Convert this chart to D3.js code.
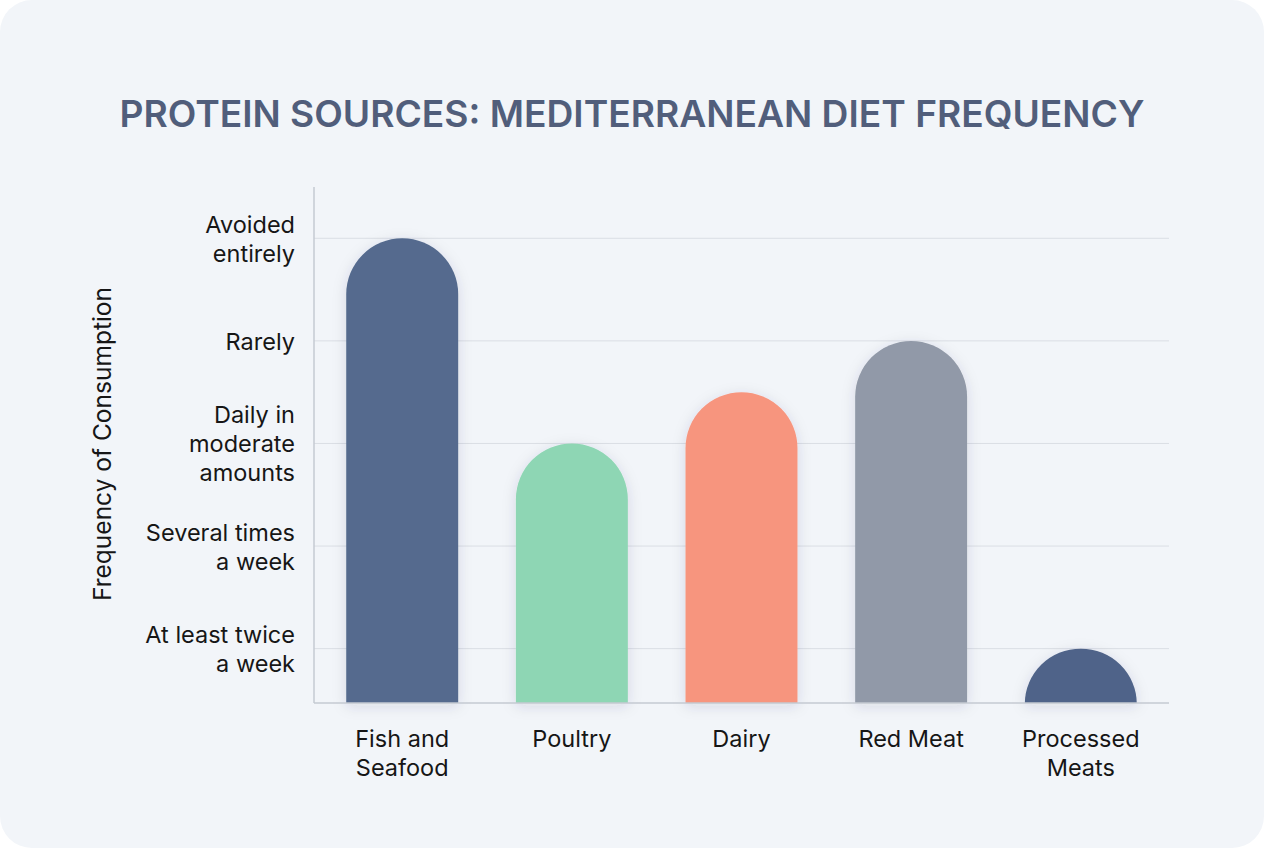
<!DOCTYPE html>
<html>
<head>
<meta charset="utf-8">
<script src="https://cdn.jsdelivr.net/npm/d3@7"></script>
<style>
  html, body { margin: 0; padding: 0; background: #ffffff; }
  svg { display: block; }
</style>
</head>
<body>
<svg id="chart"></svg>
<script>
// chart data
var categories = ["Fish and Seafood", "Poultry", "Dairy", "Red Meat", "Processed Meats"]
var values = [5, 3, 3.5, 4, 1]
var barColors = ["#546a8e", "#8ed6b4", "#f7957e", "#9199a8", "#4f6389"]
var levelValues = [1, 2, 3, 4, 5]
var levelLabels = [
    ["At least twice", "a week"],
    ["Several times", "a week"],
    ["Daily in", "moderate", "amounts"],
    ["Rarely"],
    ["Avoided", "entirely"]
]
var catLines = [["Fish and", "Seafood"], ["Poultry"], ["Dairy"], ["Red Meat"], ["Processed", "Meats"]]

var width = 1264,
    height = 848,
    plotLeft = 314,
    plotRight = 1169,
    plotTop = 187,
    plotBottom = 703,
    lineH = 29

var svg = d3.select("#chart")
    .attr("width", width)
    .attr("height", height)

var defs = svg.append("defs")
var shadow = defs.append("filter")
    .attr("id", "barShadow")
    .attr("x", "-30%").attr("y", "-30%")
    .attr("width", "160%").attr("height", "160%")
shadow.append("feDropShadow")
    .attr("dx", 0).attr("dy", 3)
    .attr("stdDeviation", 7)
    .attr("flood-color", "#2b3a55")
    .attr("flood-opacity", 0.13)

defs.append("clipPath").attr("id", "plotClip")
    .append("rect")
    .attr("x", 0).attr("y", 0)
    .attr("width", width).attr("height", plotBottom)

// card background
svg.append("rect")
    .attr("x", 0).attr("y", 0)
    .attr("width", width).attr("height", height)
    .attr("rx", 32)
    .style("fill", "#f2f5f9")

var x = d3.scaleBand()
    .domain(categories)
    .range([plotLeft, plotRight])
    .paddingInner(0.34)
    .paddingOuter(0.19)

var y = d3.scaleLinear()
    .domain([0.47, 5.5])
    .range([plotBottom, plotTop])

// title
svg.append("text")
    .text("PROTEIN SOURCES: MEDITERRANEAN DIET FREQUENCY")
    .attr("x", 632)
    .attr("y", 127)
    .attr("text-anchor", "middle")
    .attr("textLength", 1025)
    .attr("lengthAdjust", "spacingAndGlyphs")
    .style("font-family", "Inter, 'Open Sans', sans-serif")
    .style("font-weight", 600)
    .style("font-size", "37px")
    .style("fill", "#515e7b")

// gridlines
svg.append("g")
    .selectAll("line")
    .data(levelValues)
    .enter()
    .append("line")
    .attr("x1", plotLeft)
    .attr("x2", plotRight)
    .attr("y1", function(d){ return y(d) })
    .attr("y2", function(d){ return y(d) })
    .style("stroke", "#dadee4")
    .style("stroke-width", 1)

// bars: rounded tops, square bottoms (clipped at baseline)
var r = x.bandwidth() / 2
svg.append("g")
    .attr("filter", "url(#barShadow)")
    .append("g")
    .attr("clip-path", "url(#plotClip)")
    .selectAll("rect")
    .data(categories)
    .enter()
    .append("rect")
    .attr("x", function(d){ return x(d) })
    .attr("y", function(d, i){ return y(values[i]) })
    .attr("width", x.bandwidth())
    .attr("height", function(d, i){ return plotBottom - y(values[i]) + r })
    .attr("rx", r)
    .attr("ry", r)
    .style("fill", function(d, i){ return barColors[i] })

// axes lines
svg.append("line")
    .attr("x1", plotLeft).attr("x2", plotLeft)
    .attr("y1", plotTop).attr("y2", plotBottom)
    .style("stroke", "#c5cad2")
    .style("stroke-width", 1.5)
svg.append("line")
    .attr("x1", plotLeft).attr("x2", plotRight)
    .attr("y1", plotBottom).attr("y2", plotBottom)
    .style("stroke", "#c5cad2")
    .style("stroke-width", 1.5)

var labelFont = "Inter, 'Noto Sans', sans-serif"

// y tick labels
var yLab = svg.append("g")
    .selectAll("text")
    .data(levelValues)
    .enter()
    .append("text")
    .attr("text-anchor", "end")
    .style("font-family", labelFont)
    .style("font-size", "23.5px")
    .style("fill", "#161616")
yLab.each(function(d, i){
    var lines = levelLabels[i]
    var t = d3.select(this)
    var startY = y(d) - (lines.length - 1) * lineH / 2 + 9
    lines.forEach(function(s, j){
        t.append("tspan")
            .attr("x", 295)
            .attr("y", startY + j * lineH)
            .text(s)
    })
})

// x tick labels
var xLab = svg.append("g")
    .selectAll("text")
    .data(categories)
    .enter()
    .append("text")
    .attr("text-anchor", "middle")
    .style("font-family", labelFont)
    .style("font-size", "23.5px")
    .style("fill", "#161616")
xLab.each(function(d, i){
    var t = d3.select(this)
    catLines[i].forEach(function(s, j){
        t.append("tspan")
            .attr("x", x(d) + x.bandwidth() / 2)
            .attr("y", 747 + j * lineH)
            .text(s)
    })
})

// y axis title
svg.append("text")
    .text("Frequency of Consumption")
    .attr("transform", "translate(111,444) rotate(-90)")
    .attr("text-anchor", "middle")
    .style("font-family", labelFont)
    .style("font-size", "24.5px")
    .style("fill", "#161616")
</script>
</body>
</html>
